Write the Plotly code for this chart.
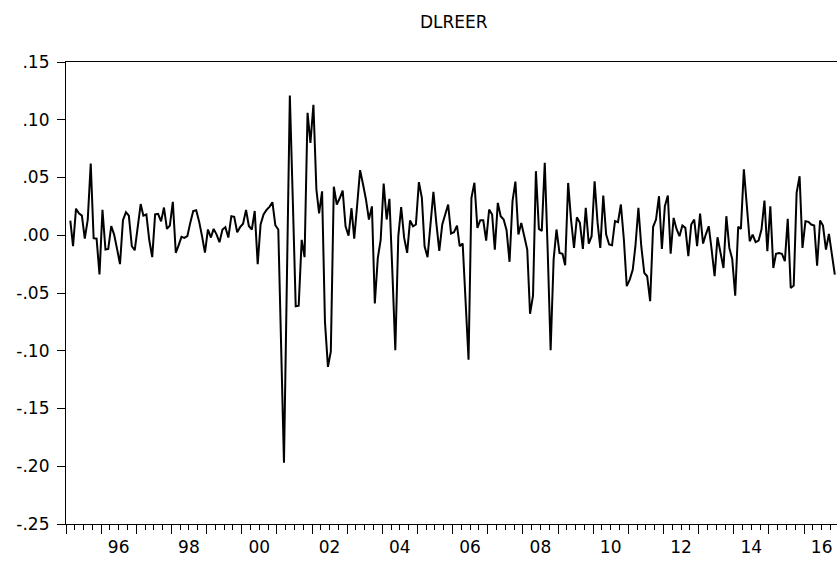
import pandas as pd
import plotly.graph_objects as go

chart_title = "DLREER"
first_month = "1995-02"

dlreer = [
    0.0127, -0.0095, 0.023, 0.019, 0.017, -0.003, 0.0136, 0.062, -0.0026, -0.003,
    -0.034, 0.022, -0.0124, -0.0118, 0.008, 0.0006, -0.012, -0.025, 0.013, 0.020,
    0.017, -0.0095, -0.013, 0.008, 0.027, 0.017, 0.018, -0.004, -0.019, 0.018,
    0.0185, 0.012, 0.024, 0.0055, 0.0084, 0.029, -0.0152, -0.009, -0.0014, -0.0023,
    -0.0008, 0.0107, 0.021, 0.0217, 0.012, -0.001, -0.015, 0.005, -0.002, 0.0055,
    0.0006, -0.006, 0.005, 0.007, -0.002, 0.0165, 0.016, 0.0026, 0.007, 0.010,
    0.022, 0.008, 0.005, 0.021, -0.025,
    0.0093, 0.018, 0.022, 0.0246, 0.0286, 0.0087, 0.005, -0.095, -0.197, -0.035,
    0.121, 0.030, -0.0615, -0.061, -0.004, -0.019, 0.106, 0.080, 0.113, 0.0396,
    0.019, 0.038, -0.075, -0.114, -0.1005, 0.042, 0.0266, 0.032, 0.0387, 0.0078,
    -0.0003, 0.0234, -0.003, 0.0266, 0.0564, 0.044, 0.031, 0.0136, 0.025, -0.059,
    -0.0197, -0.004, 0.0448, 0.0136, 0.0315, -0.033, -0.0996, -0.001,
    0.0243, -0.0023, -0.0153, 0.0127, 0.0078, 0.0093, 0.046, 0.0324, -0.0095, -0.019,
    0.012, 0.0376, 0.0107, -0.0136, 0.0093, 0.018, 0.0266, 0.0015, 0.0026, 0.0084,
    -0.0095, -0.0072, -0.0586, -0.1077, 0.0324, 0.0454, 0.0064, 0.013, 0.013, -0.0046,
    0.0223, 0.018, -0.0124, 0.028, 0.0165, 0.0136, 0.0044, -0.023, 0.0295, 0.0465,
    0.0006, 0.0107, -0.0008, -0.0124, -0.068, -0.0523, 0.0555, 0.0055, 0.0038, 0.0627,
    -0.015, -0.0996, -0.021, 0.005, -0.0153, -0.016, -0.026, 0.0453, 0.0136, -0.011,
    0.0156, 0.0107, -0.0118, 0.0237, -0.0072, -0.0008, 0.0468, 0.0107, -0.011, 0.0344,
    0.0006, -0.008, -0.0087, 0.0122, 0.0113, 0.0266, -0.0037, -0.044, -0.0384, -0.030,
    -0.0095, 0.0237, -0.0095, -0.0326, -0.0355, -0.057, 0.0073, 0.0136, 0.0338, -0.0118,
    0.0251, 0.0344, -0.016, 0.015, 0.0055, -0.0008, 0.0084, 0.0064, -0.018, 0.0093,
    0.0136, -0.0095, 0.0188, -0.0072, 0.0006, 0.0078, -0.0124, -0.0355, -0.0017, -0.015,
    -0.0283, 0.0165, -0.011, -0.0205, -0.0523, 0.0073, 0.0055, 0.057, 0.0223, -0.0052,
    0.0006, -0.006, -0.0046, 0.005, 0.030, -0.0138, 0.0251, -0.0283, -0.016, -0.0153,
    -0.016, -0.0225, 0.0142, -0.0456, -0.0436, 0.0367, 0.0511, -0.011, 0.0122, 0.0116,
    0.0093, 0.0084, -0.0263, 0.0127, 0.0084, -0.0124, 0.0012, -0.015, -0.034,
]

y_tickvals = [0.15, 0.10, 0.05, 0.00, -0.05, -0.10, -0.15, -0.20, -0.25]
y_ticktext = [".15", ".10", ".05", ".00", "-.05", "-.10", "-.15", "-.20", "-.25"]
label_years = list(range(1996, 2017, 2))
label_text = ["96", "98", "00", "02", "04", "06", "08", "10", "12", "14", "16"]
tick_years = list(range(1995, 2017))

FONT = "DejaVu Sans, Liberation Sans, Arial, sans-serif"

months = pd.period_range(first_month, periods=len(dlreer), freq="M")
x = months.to_timestamp(how="start") + pd.Timedelta(days=14)

x_start = pd.Timestamp("1995-01-01")
x_end = x_start + pd.Timedelta(days=21.935 * 365.25)
x_range = [x_start, x_end]

major_vals = [f"{y}-01-01" for y in tick_years]
minor_vals = [f"{y}-{m:02d}-01" for y in tick_years for m in (4, 7, 10)]
label_vals = [f"{y}-07-01" for y in label_years]

fig = go.Figure()
fig.add_trace(go.Scatter(
    x=x, y=dlreer, mode="lines",
    line=dict(color="black", width=2),
    showlegend=False, hoverinfo="skip",
))
# empty trace so that the overlaying label axis gets drawn
fig.add_trace(go.Scatter(x=[], y=[], xaxis="x2", yaxis="y",
                         mode="lines", showlegend=False, hoverinfo="skip"))

fig.update_layout(
    width=837, height=562,
    margin=dict(l=66, r=0, t=62, b=38),
    paper_bgcolor="white", plot_bgcolor="white",
    font=dict(family=FONT, size=17, color="black"),
    title=dict(text=chart_title, x=0.503, xref="paper", xanchor="center",
               y=1 - 22 / 562, yref="container", yanchor="middle",
               font=dict(family=FONT, size=17, color="black")),
    xaxis=dict(
        type="date", range=x_range,
        tickmode="array", tickvals=major_vals, ticktext=[""] * len(major_vals),
        ticks="outside", ticklen=9, tickwidth=1, tickcolor="black",
        minor=dict(tickmode="array", tickvals=minor_vals, ticks="outside",
                   ticklen=5, tickwidth=1, tickcolor="black", showgrid=False),
        showline=True, linecolor="black", linewidth=1.2, mirror=True,
        showgrid=False, zeroline=False,
    ),
    xaxis2=dict(
        type="date", range=x_range, overlaying="x", anchor="y", side="bottom",
        tickmode="array", tickvals=label_vals, ticktext=label_text,
        ticks="outside", ticklen=8, tickcolor="rgba(0,0,0,0)",
        tickfont=dict(family=FONT, size=17, color="black"),
        showline=False, showgrid=False, zeroline=False,
    ),
    yaxis=dict(
        range=[-0.25, 0.15],
        tickmode="array", tickvals=y_tickvals, ticktext=y_ticktext,
        ticks="outside", ticklen=8, tickwidth=1, tickcolor="black",
        ticklabelstandoff=4,
        tickfont=dict(family=FONT, size=17, color="black"),
        showline=True, linecolor="black", linewidth=1.2, mirror=False,
        showgrid=False, zeroline=False,
    ),
)

fig.write_html("out.html", config={"displayModeBar": False},
               post_script="document.body.style.margin='0';document.body.style.overflow='hidden';")
